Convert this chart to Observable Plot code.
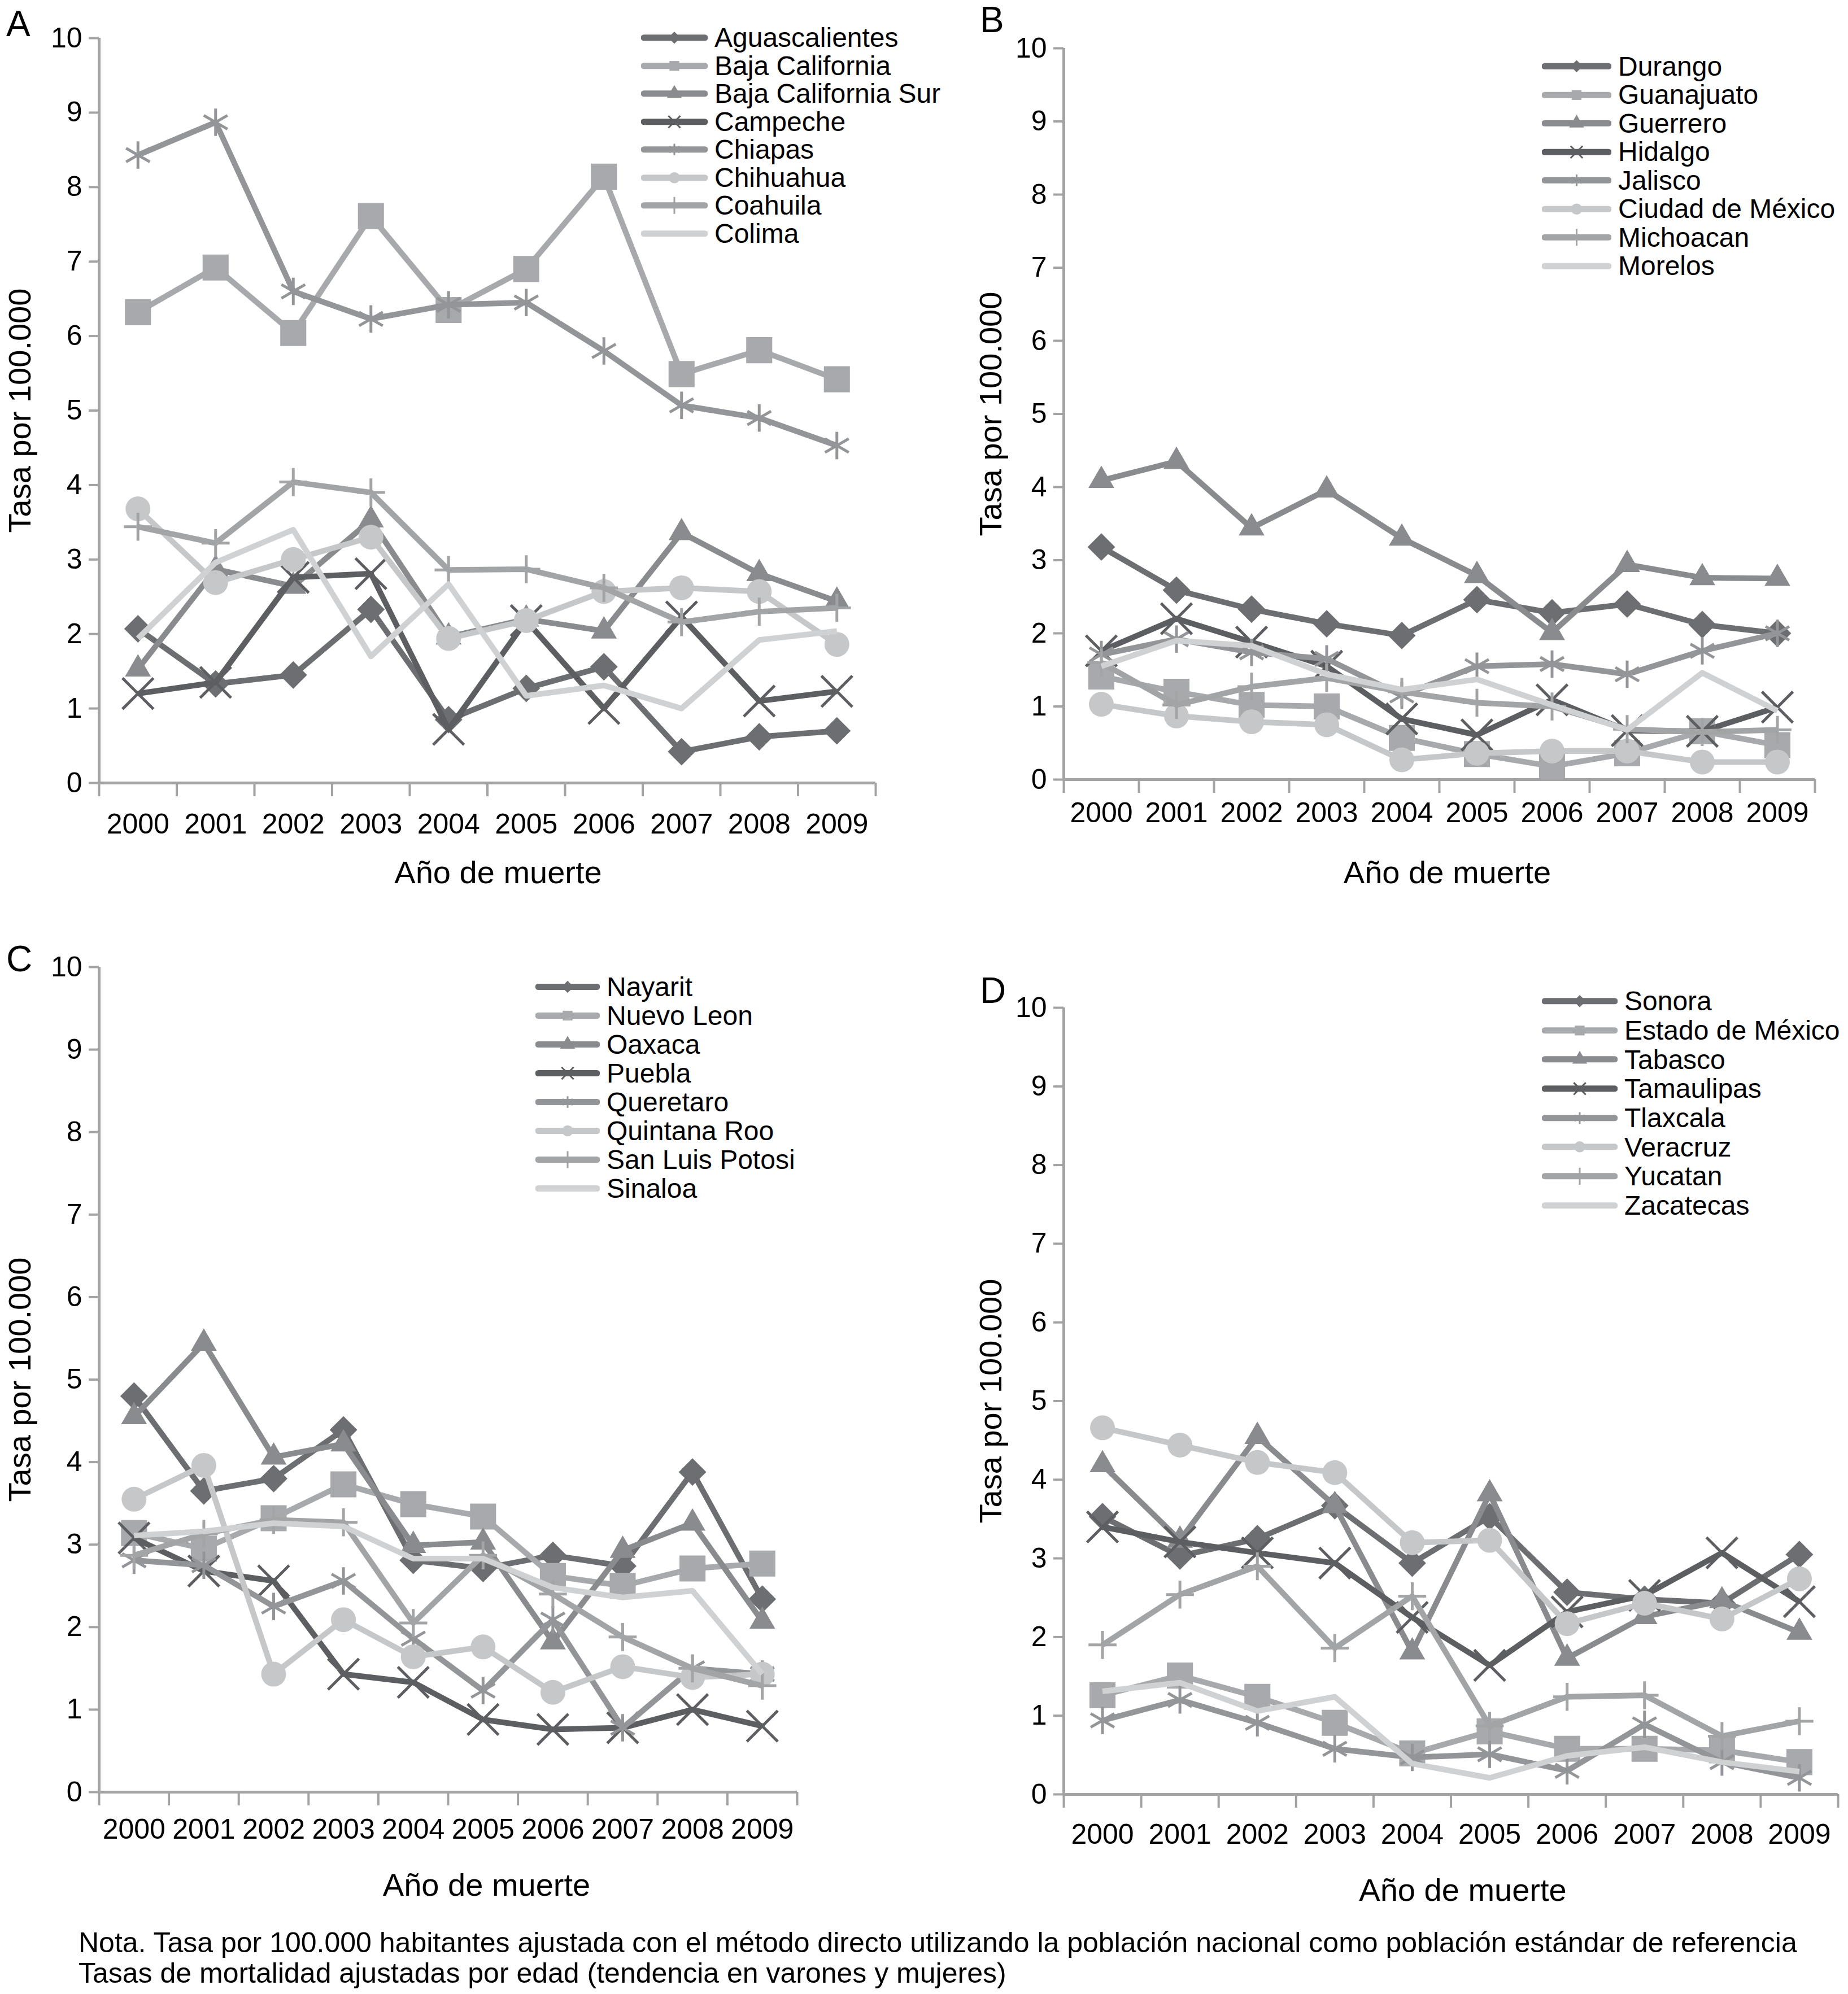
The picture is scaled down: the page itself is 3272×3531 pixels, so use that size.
<!DOCTYPE html>
<html><head><meta charset="utf-8">
<script src="https://cdn.jsdelivr.net/npm/d3@7"></script>
<script src="https://cdn.jsdelivr.net/npm/@observablehq/plot@0.6"></script>
<style>
html,body{margin:0;padding:0;background:#fff;}
#root{position:relative;width:3272px;height:3531px;font-family:"Liberation Sans",Arial,sans-serif;color:#000;overflow:hidden;background:#fff;}
.panel{position:absolute;}
.letter{position:absolute;font-size:64px;line-height:1;}
.legend{position:absolute;font-size:48px;}
.legend .row{display:flex;align-items:center;white-space:nowrap;}
.legend svg{display:block;flex:none;}
.note{position:absolute;left:139px;top:3413px;font-size:50px;line-height:54px;white-space:nowrap;}
svg g[aria-label="y-axis tick"], svg g[aria-label="x-axis tick"]{stroke:#a3a3a3;stroke-width:4px;}
</style></head><body><div id="root"></div><script>
const years = [2000, 2001, 2002, 2003, 2004, 2005, 2006, 2007, 2008, 2009];
const yTicks = [0, 1, 2, 3, 4, 5, 6, 7, 8, 9, 10];

const statesA = ["Aguascalientes", "Baja California", "Baja California Sur", "Campeche", "Chiapas", "Chihuahua", "Coahuila", "Colima"];
const ratesA = [
  [2.07, 1.33, 1.45, 2.33, 0.85, 1.27, 1.56, 0.42, 0.62, 0.70],
  [6.32, 6.92, 6.04, 7.61, 6.35, 6.90, 8.14, 5.49, 5.81, 5.42],
  [1.53, 2.87, 2.64, 3.53, 1.96, 2.20, 2.04, 3.36, 2.81, 2.44],
  [1.20, 1.35, 2.76, 2.81, 0.72, 2.18, 1.00, 2.23, 1.10, 1.23],
  [8.43, 8.87, 6.60, 6.23, 6.42, 6.45, 5.80, 5.07, 4.90, 4.53],
  [3.68, 2.69, 3.00, 3.30, 1.94, 2.18, 2.57, 2.62, 2.57, 1.86],
  [3.44, 3.22, 4.04, 3.90, 2.86, 2.87, 2.62, 2.16, 2.30, 2.35],
  [1.94, 2.96, 3.40, 1.70, 2.67, 1.17, 1.31, 1.00, 1.92, 2.04]
];

const statesB = ["Durango", "Guanajuato", "Guerrero", "Hidalgo", "Jalisco", "Ciudad de México", "Michoacan", "Morelos"];
const ratesB = [
  [3.18, 2.59, 2.33, 2.13, 1.97, 2.46, 2.28, 2.40, 2.12, 2.00],
  [1.41, 1.20, 1.02, 1.00, 0.57, 0.35, 0.18, 0.36, 0.66, 0.47],
  [4.09, 4.35, 3.44, 3.96, 3.30, 2.79, 2.01, 2.94, 2.76, 2.75],
  [1.76, 2.20, 1.88, 1.55, 0.83, 0.61, 1.09, 0.67, 0.66, 0.99],
  [1.71, 1.92, 1.74, 1.65, 1.15, 1.55, 1.58, 1.44, 1.76, 2.00],
  [1.03, 0.87, 0.79, 0.75, 0.27, 0.36, 0.39, 0.39, 0.24, 0.24],
  [1.60, 1.02, 1.27, 1.39, 1.20, 1.05, 1.00, 0.69, 0.65, 0.68],
  [1.55, 1.90, 1.83, 1.44, 1.23, 1.37, 1.02, 0.68, 1.46, 0.94]
];

const statesC = ["Nayarit", "Nuevo Leon", "Oaxaca", "Puebla", "Queretaro", "Quintana Roo", "San Luis Potosi", "Sinaloa"];
const ratesC = [
  [4.80, 3.65, 3.80, 4.39, 2.81, 2.71, 2.87, 2.74, 3.88, 2.34],
  [3.14, 2.95, 3.32, 3.73, 3.49, 3.34, 2.62, 2.50, 2.71, 2.77],
  [4.55, 5.44, 4.06, 4.22, 2.99, 3.03, 1.82, 2.93, 3.26, 2.07],
  [3.08, 2.68, 2.56, 1.43, 1.33, 0.88, 0.76, 0.78, 1.00, 0.80],
  [2.81, 2.75, 2.25, 2.56, 1.86, 1.23, 2.09, 0.78, 1.50, 1.43],
  [3.55, 3.96, 1.43, 2.09, 1.64, 1.76, 1.21, 1.52, 1.39, 1.43],
  [2.87, 3.13, 3.30, 3.27, 2.05, 2.87, 2.40, 1.88, 1.50, 1.29],
  [3.11, 3.16, 3.26, 3.22, 2.83, 2.83, 2.48, 2.36, 2.44, 1.43]
];

const statesD = ["Sonora", "Estado de México", "Tabasco", "Tamaulipas", "Tlaxcala", "Veracruz", "Yucatan", "Zacatecas"];
const ratesD = [
  [3.53, 3.03, 3.25, 3.67, 2.94, 3.53, 2.57, 2.48, 2.43, 3.05],
  [1.26, 1.51, 1.24, 0.91, 0.52, 0.80, 0.58, 0.58, 0.56, 0.41],
  [4.19, 3.23, 4.55, 3.67, 1.81, 3.82, 1.73, 2.26, 2.46, 2.06],
  [3.40, 3.21, 3.07, 2.94, 2.25, 1.64, 2.32, 2.53, 3.07, 2.45],
  [0.94, 1.20, 0.91, 0.58, 0.47, 0.51, 0.30, 0.89, 0.41, 0.21],
  [4.66, 4.44, 4.22, 4.09, 3.20, 3.23, 2.17, 2.43, 2.23, 2.74],
  [1.90, 2.54, 2.90, 1.86, 2.52, 0.87, 1.24, 1.26, 0.74, 0.93],
  [1.31, 1.42, 1.06, 1.24, 0.39, 0.21, 0.49, 0.60, 0.41, 0.29]
];

const yTitle = "Tasa por 100.000";
const xTitle = "Año de muerte";
const noteLines = [
  "Nota. Tasa por 100.000 habitantes ajustada con el método directo utilizando la población nacional como población estándar de referencia",
  "Tasas de mortalidad ajustadas por edad (tendencia en varones y mujeres)"
];

// styles (series order)
const colors = ["#6d6e71", "#a7a9ac", "#898b8e", "#5d5e61", "#939598", "#c6c7c9", "#a2a4a6", "#d0d1d3"];
const symbols = ["diamond2", "square", "triangle", "times", "asterisk", "circle", "plus", null];
const radii = [22, 26, 17, 25, 23, 22, 16, 0];
const strokedSymbols = ["times", "asterisk", "plus"];
const axisColor = "#a3a3a3";

const layout = [
  {letter: "A", states: statesA, rates: ratesA, left: 0, top: 0, width: 1636, height: 1620, mt: 67, mb: 234, ml: 175, mr: 86, tickPad: 54, ytDx: -139, xtDx: 19, xtDy: 160,
   lx: 11, ly: 10, leg: {left: 1135, top: 42, row: 49.5, sw: 118}},
  {letter: "B", states: statesB, rates: ratesB, left: 1636, top: 0, width: 1636, height: 1620, mt: 85, mb: 240, ml: 247, mr: 59, tickPad: 40, ytDx: -128, xtDx: 14, xtDy: 166,
   lx: 1735, ly: 3, leg: {left: 2730, top: 92, row: 50.5, sw: 123}},
  {letter: "C", states: statesC, rates: ratesC, left: 0, top: 1640, width: 1636, height: 1760, mt: 72, mb: 227, ml: 175, mr: 225, tickPad: 47, ytDx: -139, xtDx: 68, xtDy: 166,
   lx: 11, ly: 1666, leg: {left: 948, top: 1722, row: 51, sw: 114}},
  {letter: "D", states: statesD, rates: ratesD, left: 1636, top: 1640, width: 1636, height: 1760, mt: 144, mb: 223, ml: 247, mr: 18, tickPad: 52, ytDx: -128, xtDx: 21, xtDy: 171,
   lx: 1735, ly: 1722, leg: {left: 2730, top: 1747, row: 51.7, sw: 134}}
];

const d3sym = {diamond2: d3.symbolDiamond2, square: d3.symbolSquare, triangle: d3.symbolTriangle, times: d3.symbolTimes,
  asterisk: d3.symbolAsterisk, circle: d3.symbolCircle, plus: d3.symbolPlus};

const root = document.getElementById("root");
const bounds = d3.range(10 + 1).map(i => years[0] - 0.5 + i);

for (const p of layout) {
  const marks = [
    Plot.ruleX([bounds[0]], {stroke: axisColor, strokeWidth: 5}),
    Plot.ruleY([0], {stroke: axisColor, strokeWidth: 5}),
    Plot.axisY({ticks: yTicks, tickSize: 18, tickPadding: 12, tickFormat: d => String(d), label: null}),
    Plot.axisX({ticks: bounds, tickSize: 24, tickFormat: () => "", label: null}),
    Plot.axisX({ticks: years, tickSize: 0, tickPadding: p.tickPad, tickFormat: d => String(d), label: null})
  ];
  p.states.forEach((name, i) => {
    const data = years.map((year, j) => ({year, value: p.rates[i][j], name}));
    marks.push(Plot.line(data, {x: "year", y: "value", stroke: colors[i], strokeWidth: 10, strokeLinejoin: "round", strokeLinecap: "butt"}));
    const sym = symbols[i];
    if (sym) {
      const stroked = strokedSymbols.includes(sym);
      marks.push(Plot.dot(data, {x: "year", y: "value", symbol: sym, r: radii[i],
        fill: stroked ? "none" : colors[i], stroke: stroked ? colors[i] : "none", strokeWidth: stroked ? 5 : 0}));
    }
  });
  marks.push(Plot.text([yTitle], {text: d => d, frameAnchor: "left", dx: p.ytDx, rotate: -90, fontSize: 56, textAnchor: "middle", lineAnchor: "middle", fill: "#000"}));
  marks.push(Plot.text([xTitle], {text: d => d, frameAnchor: "bottom", dx: p.xtDx, dy: p.xtDy, fontSize: 56, textAnchor: "middle", lineAnchor: "middle", fill: "#000"}));

  const chart = Plot.plot({
    width: p.width, height: p.height,
    marginTop: p.mt, marginBottom: p.mb, marginLeft: p.ml, marginRight: p.mr,
    x: {type: "linear", domain: [bounds[0], bounds[bounds.length - 1]]},
    y: {type: "linear", domain: [0, 10]},
    style: {fontFamily: '"Liberation Sans", Arial, sans-serif', fontSize: "50px", color: "#000", background: "none", overflow: "visible"},
    marks
  });
  const wrap = document.createElement("div");
  wrap.className = "panel";
  wrap.style.left = p.left + "px";
  wrap.style.top = p.top + "px";
  wrap.appendChild(chart);
  root.appendChild(wrap);

  const letter = document.createElement("div");
  letter.className = "letter";
  letter.textContent = p.letter;
  letter.style.left = p.lx + "px";
  letter.style.top = p.ly + "px";
  root.appendChild(letter);

  // legend
  const leg = document.createElement("div");
  leg.className = "legend";
  leg.style.left = p.leg.left + "px";
  leg.style.top = p.leg.top + "px";
  p.states.forEach((name, i) => {
    const row = document.createElement("div");
    row.className = "row";
    row.style.height = p.leg.row + "px";
    const h = p.leg.row, w = p.leg.sw;
    const svg = d3.create("svg").attr("width", w).attr("height", h);
    svg.append("line").attr("x1", 5).attr("x2", w - 5).attr("y1", h / 2).attr("y2", h / 2)
      .attr("stroke", colors[i]).attr("stroke-width", 11).attr("stroke-linecap", "round");
    const sym = symbols[i];
    if (sym) {
      const stroked = strokedSymbols.includes(sym);
      svg.append("path").attr("transform", `translate(${w / 2},${h / 2})`)
        .attr("d", d3.symbol(d3sym[sym], stroked ? 300 : 300)())
        .attr("fill", stroked ? "none" : colors[i])
        .attr("stroke", stroked ? colors[i] : "none").attr("stroke-width", 3);
    }
    row.appendChild(svg.node());
    const label = document.createElement("span");
    label.textContent = name;
    label.style.marginLeft = "12px";
    row.appendChild(label);
    leg.appendChild(row);
  });
  root.appendChild(leg);
}

const note = document.createElement("div");
note.className = "note";
noteLines.forEach(t => { const d = document.createElement("div"); d.textContent = t; note.appendChild(d); });
root.appendChild(note);
</script></body></html>
